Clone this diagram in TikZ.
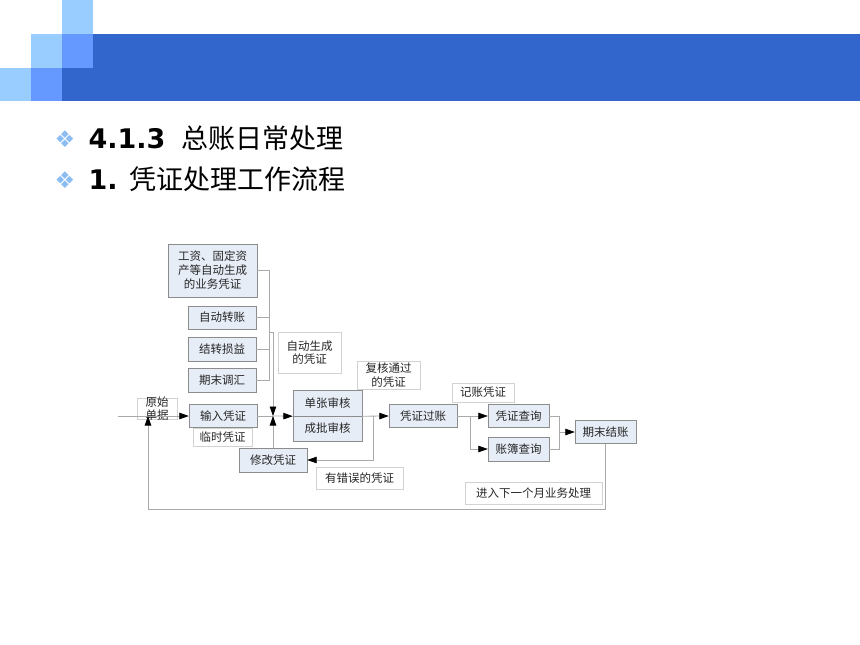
\documentclass[tikz,border=0pt]{standalone}
\usepackage{fontspec}
\setmainfont{DejaVu Sans}
\newfontfamily\cjk{Noto Sans CJK SC}
\usepackage{xcolor}
\usepackage{tikz}
\usetikzlibrary{arrows.meta}
\usetikzlibrary{positioning}

\definecolor{bardark}{HTML}{3366CC}
\definecolor{barmid}{HTML}{6699FF}
\definecolor{barlight}{HTML}{99CCFF}
\definecolor{bulletblue}{HTML}{8CBDF2}
\definecolor{boxfill}{HTML}{E7EDF7}
\definecolor{boxline}{HTML}{8C8C8C}
\definecolor{noteline}{HTML}{D2D2D2}
\definecolor{linkgray}{HTML}{AAAAAA}

\begin{document}
\begin{tikzpicture}
        [x=1pt,y=-1pt,
        work/.style={rectangle,draw=boxline,fill=boxfill,minimum width=68pt,minimum height=23pt,inner sep=0pt,
          font=\cjk\fontsize{11.5}{14}\selectfont,text=black!85,align=center},
        note/.style={rectangle,draw=noteline,fill=white,inner sep=0pt,
          font=\cjk\fontsize{11.5}{13.5}\selectfont,text=black!85,align=center},
        link/.style={draw=linkgray,line width=0.8pt},
        into/.style={link,-{Triangle[length=9.5pt,width=6.5pt,color=black]}},
        headline/.style={anchor=base west,font=\fontsize{27}{30}\selectfont,text=black},
        bullet/.style={font=\fontsize{23}{25}\selectfont,text=bulletblue}]

\useasboundingbox (0,0) rectangle (860,645);
\fill[white] (0,0) rectangle (860,645);

% header bar
\fill[bardark] (93,34) rectangle (860,68);
\fill[bardark] (62,68) rectangle (860,101);
\fill[barlight] (62,0) rectangle (93,34);
\fill[barlight] (31,34) rectangle (62,68);
\fill[barmid] (62,34) rectangle (93,68);
\fill[barlight] (0,68) rectangle (31,101);
\fill[barmid] (31,68) rectangle (62,101);

% headings
\node[bullet] at (65,139) (b1) {❖};
\node[bullet] at (65,180) (b2) {❖};
\node[headline] at (85,148) (h1) {\textbf{4.1.3}\hspace{8pt} {\cjk 总账日常处理}};
\node[headline] at (85,189) (h2) {\textbf{1.} {\cjk 凭证处理工作流程}};

% boxes
\node[work,minimum width=89pt,minimum height=53pt] at (212.5,270.5) (salary) {工资、固定资\\产等自动生成\\的业务凭证};
\node[work] at (222,317.5) (autotr) {自动转账};
\node[work,minimum height=24pt] at (222,349) (pl) {结转损益};
\node[work,minimum height=24pt] at (222,380) (fx) {期末调汇};
\node[work] at (223,416) (input) {输入凭证};
\node[work,minimum width=69pt,minimum height=26pt] at (327.5,403) (single) {单张审核};
\node[work,minimum width=69pt,minimum height=25pt] at (327.5,428.5) (batch) {成批审核};
\node[work,minimum height=24pt] at (273,460) (fix) {修改凭证};
\node[work] at (423,416) (post) {凭证过账};
\node[work,minimum width=61pt] at (518.5,416) (query) {凭证查询};
\node[work,minimum width=61pt,minimum height=24pt] at (518.5,449) (ledger) {账簿查询};
\node[work,minimum width=61pt] at (605.5,432) (close) {期末结账};

% notes
\node[note,minimum width=63pt,minimum height=41pt] at (309.5,352.5) (autonote) {自动生成\\的凭证};
\node[note,minimum width=63pt,minimum height=28pt] at (388.5,375) (oknote) {复核通过\\的凭证};
\node[note,fill=none,minimum width=40pt,minimum height=21pt,inner ysep=-2pt,font=\cjk\fontsize{11.5}{13}\selectfont] at (157,409) (srcnote) {原始\\单据};
\node[note,minimum width=59pt,minimum height=18pt] at (222.5,437) (tempnote) {临时凭证};
\node[note,minimum width=87pt,minimum height=22pt] at (359.5,478) (errnote) {有错误的凭证};
\node[note,minimum width=62pt,minimum height=19pt] at (483,392.5) (postnote) {记账凭证};
\node[note,minimum width=137pt,minimum height=22pt] at (533.5,493) (nextnote) {进入下一个月业务处理};

% points
\coordinate (brk) at (269,332);
\coordinate (join) at (273,416);
\coordinate (start) at (118,416);
\coordinate (errpt) at (373,416);
\coordinate (fork) at (470,416);
\coordinate (merge) at (559,432);
\coordinate (loopbot) at (148,509);
\coordinate (loop) at (148,416);

%arrows
\draw[link] (salary.east) -- ++(12,0) |- (fx.east);
\draw[link] (autotr.east) -- ++(13,0);
\draw[link] (pl.east) -- ++(13,0);
\draw[into] (brk) -| (join);
\draw[into] (start) -- (input.west);
\draw[link] (input.east) -- (join);
\draw[into] (join) -- (single.south west);
\draw[into] (fix.north) -- (join);
\draw[into] (single.south east) -- (post.west);
\draw[into] (errpt) |- (fix.east);
\draw[into] (post.east) -- (query.west);
\draw[into] (fork) |- (ledger.west);
\draw[link] (query.east) -| (merge);
\draw[link] (ledger.east) -| (merge);
\draw[into] (merge) -- (close.west);
\draw[into] (close.south) |- (loopbot) -- (loop);

\end{tikzpicture}
\end{document}
